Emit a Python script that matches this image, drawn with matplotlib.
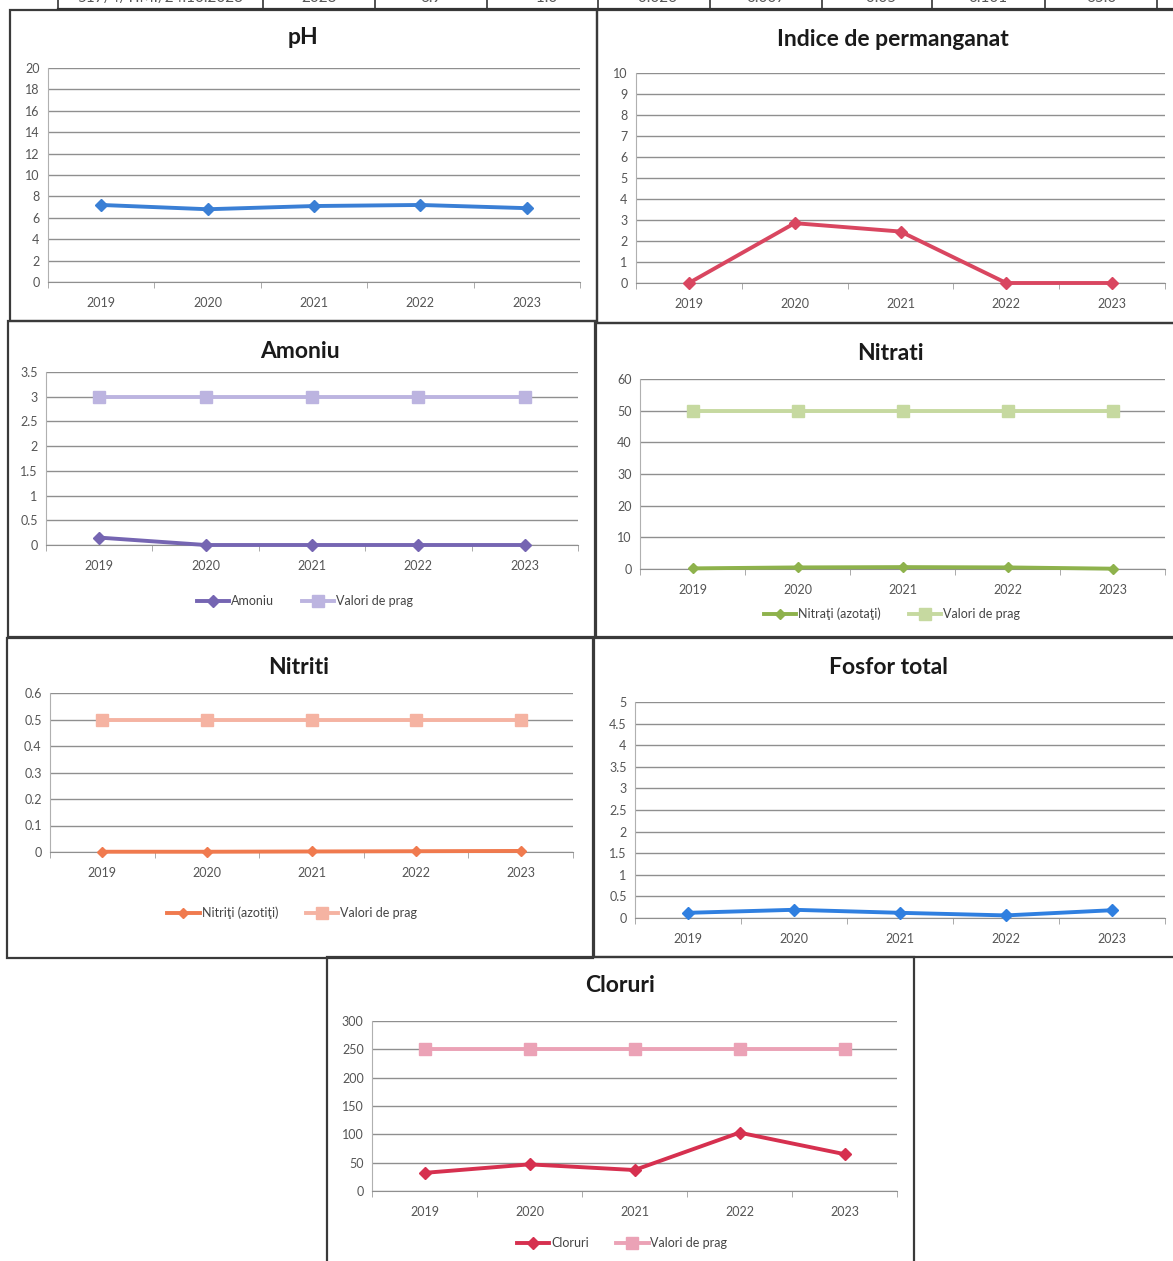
import matplotlib
matplotlib.use("Agg")
import matplotlib.pyplot as plt
from matplotlib.patches import Rectangle
from matplotlib.ticker import FuncFormatter

plt.rcParams['font.family'] = ['Lato', 'DejaVu Sans']

W, H = 1173, 1261

years = ['2019', '2020', '2021', '2022', '2023']

ph = [7.2, 6.8, 7.1, 7.2, 6.9]
permanganat = [0.0, 2.85, 2.45, 0.0, 0.0]
amoniu = [0.15, 0.0, 0.0, 0.0, 0.0]
amoniu_prag = [3, 3, 3, 3, 3]
nitrati = [0.2, 0.5, 0.6, 0.5, 0.1]
nitrati_prag = [50, 50, 50, 50, 50]
nitriti = [0.001, 0.001, 0.002, 0.003, 0.004]
nitriti_prag = [0.5, 0.5, 0.5, 0.5, 0.5]
fosfor = [0.12, 0.19, 0.12, 0.06, 0.18]
cloruri = [32, 47, 37, 103, 65]
cloruri_prag = [250, 250, 250, 250, 250]

# table strip at the top of the scanned page (clipped in the scan)
table_row = ['517/4/TIMI/24.10.2023', '2023', '6.9', '<1.0', '<0.026',
             '0.007', '<0.05', '0.101', '65.0']
table_cols = [58, 263, 375, 487, 598, 710, 822, 932, 1045, 1157]


def fx(x):
    return x / W


def fy(y):
    return 1 - y / H


def rect(x0, y0, x1, y1):
    return [fx(x0), fy(y1), (x1 - x0) / W, (y1 - y0) / H]


fig = plt.figure(figsize=(W / 100, H / 100), dpi=100)
fig.patch.set_facecolor('white')

# table fragment
fig.add_artist(plt.Line2D([fx(58), 1.0], [fy(9), fy(9)], color='#333333', lw=1.6))
for c in table_cols:
    fig.add_artist(plt.Line2D([fx(c), fx(c)], [fy(9), 1.0], color='#333333', lw=1.2))
for i, t in enumerate(table_row):
    xc = (table_cols[i] + table_cols[i + 1]) / 2
    fig.text(fx(xc), fy(5), t, ha='center', va='bottom', fontsize=11, color='#555555')


def box(x0, y0, x1, y1):
    fig.add_artist(Rectangle((fx(x0), fy(y1)), (x1 - x0) / W, (y1 - y0) / H,
                             transform=fig.transFigure, fill=False,
                             edgecolor='#3a3a3a', lw=1.6))


def panel(plot_px, box_px, title, title_xy, ymax, ystep, series, legend_xy=None):
    box(*box_px)
    fig.text(fx(title_xy[0]), fy(title_xy[1]), title, ha='center', va='center',
             fontsize=16.5, fontweight='bold', color='#1a1a1a')
    ax = fig.add_axes(rect(*plot_px))
    x = list(range(len(years)))
    handles = []
    for vals, color, marker, ms, label in series:
        h, = ax.plot(x, vals, color=color, lw=2.8, marker=marker, ms=ms,
                     mfc=color, mec=color, label=label, zorder=3, clip_on=False)
        handles.append(h)
    ax.set_xlim(-0.5, len(years) - 0.5)
    ax.set_ylim(0, ymax)
    n = int(round(ymax / ystep))
    ax.set_yticks([ystep * i for i in range(n + 1)])
    ax.yaxis.set_major_formatter(FuncFormatter(lambda v, p: '{:g}'.format(round(v, 4))))
    ax.set_xticks(x)
    ax.set_xticklabels(years)
    ax.set_xticks([i + 0.5 for i in range(-1, len(years))], minor=True)
    ax.grid(axis='y', color='#8f8f8f', lw=1.0)
    ax.set_axisbelow(True)
    for s in ['top', 'right']:
        ax.spines[s].set_visible(False)
    ax.spines['left'].set_color('#b0b0b0')
    ax.spines['bottom'].set_color('#8f8f8f')
    ax.tick_params(axis='both', which='major', length=0, labelsize=9,
                   labelcolor='#555555', pad=6)
    ax.tick_params(axis='x', which='major', pad=11)
    ax.tick_params(axis='x', which='minor', length=4, color='#9c9c9c')
    if legend_xy is not None:
        fig.legend(handles=handles, loc='center',
                   bbox_to_anchor=(fx(legend_xy[0]), fy(legend_xy[1])),
                   ncol=len(handles), frameon=False, fontsize=9,
                   handlelength=2.6, columnspacing=2.2, handletextpad=0.15,
                   labelcolor='#444444')
    return ax


panel((48, 68, 580, 282), (10, 10, 597, 321), 'pH', (303, 38), 20, 2,
      [(ph, '#3a7fd5', 'D', 6, 'pH')])

panel((636, 73, 1165, 283), (597, 10, 1178, 323), 'Indice de permanganat', (893, 39), 10, 1,
      [(permanganat, '#d94660', 'D', 6, 'Indice de permanganat')])

panel((46, 372, 578, 545), (8, 321, 595, 637), 'Amoniu', (300, 351), 3.5, 0.5,
      [(amoniu, '#7565b2', 'D', 6, 'Amoniu'),
       (amoniu_prag, '#bcb4e0', 's', 8, 'Valori de prag')],
      legend_xy=(305, 601))

panel((640, 379, 1165, 569), (596, 323, 1178, 637), 'Nitrati', (890, 354), 60, 10,
      [(nitrati, '#8eb24c', 'D', 5, 'Nitraţi (azotaţi)'),
       (nitrati_prag, '#c6d9a0', 's', 8, 'Valori de prag')],
      legend_xy=(892, 614))

panel((50, 693, 573, 852), (7, 638, 593, 958), 'Nitriti', (299, 668), 0.6, 0.1,
      [(nitriti, '#f07a4e', 'D', 5, 'Nitriţi (azotiţi)'),
       (nitriti_prag, '#f5b3a2', 's', 8, 'Valori de prag')],
      legend_xy=(292, 913))

panel((635, 702, 1165, 918), (594, 638, 1178, 957), 'Fosfor total', (888, 667), 5, 0.5,
      [(fosfor, '#2f7fe0', 'D', 6, 'Fosfor total')])

panel((372, 1021, 897, 1191), (327, 957, 914, 1266), 'Cloruri', (620, 985), 300, 50,
      [(cloruri, '#d6304f', 'D', 6, 'Cloruri'),
       (cloruri_prag, '#eba2b6', 's', 8, 'Valori de prag')],
      legend_xy=(622, 1243))

fig.savefig('out.png', dpi=100)
